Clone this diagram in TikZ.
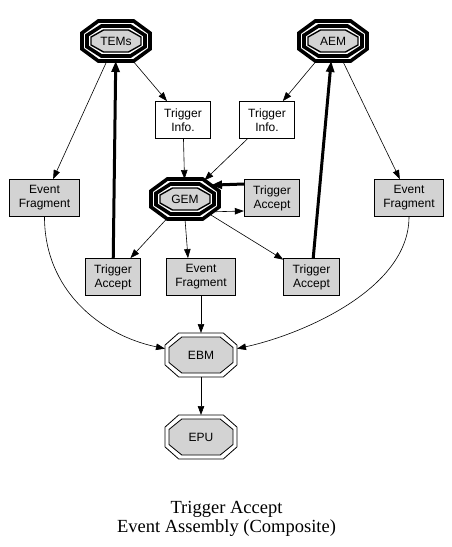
\documentclass[tikz,border=0pt]{standalone}
\usepackage{fontspec}
\setmainfont{Liberation Serif}
\newfontfamily\arialfont{Liberation Sans}
\usetikzlibrary{arrows.meta}
\definecolor{lgray}{HTML}{D3D3D3}
\makeatletter
\newdimen\octW \newdimen\octH \newdimen\octCx \newdimen\octCy
\newdimen\octA \newdimen\octB \newdimen\octDx \newdimen\octDy
\pgfkeys{/pgf/octo top/.initial=0.5, /pgf/octo side/.initial=0.4}
\def\octgeom{%
  \southwest \octCx=\pgf@x \octCy=\pgf@y
  \northeast \octW=\pgf@x \octH=\pgf@y
  \advance\octW by -\octCx \octW=.5\octW
  \advance\octH by -\octCy \octH=.5\octH
  \advance\octCx by \octW \advance\octCy by \octH
  \octratios
  \octA=\octtopr\octW
  \octB=\octsider\octH
}
\pgfdeclareshape{octo}{%
  \inheritsavedanchors[from=rectangle]
  \inheritanchor[from=rectangle]{center}
  \inheritanchor[from=rectangle]{text}
  \inheritanchor[from=rectangle]{base}
  \inheritanchor[from=rectangle]{mid}
  \inheritanchor[from=rectangle]{north}
  \inheritanchor[from=rectangle]{south}
  \inheritanchor[from=rectangle]{east}
  \inheritanchor[from=rectangle]{west}
  \savedmacro\octratios{%
    \edef\octtopr{\pgfkeysvalueof{/pgf/octo top}}%
    \edef\octsider{\pgfkeysvalueof{/pgf/octo side}}%
    \addtosavedmacro\octtopr
    \addtosavedmacro\octsider
  }
  \backgroundpath{%
    \octgeom
    \pgfpathmoveto{\pgfpointadd{\pgfqpoint{\octCx}{\octCy}}{\pgfqpoint{\octW}{\octB}}}%
    \pgfpathlineto{\pgfpointadd{\pgfqpoint{\octCx}{\octCy}}{\pgfqpoint{\octA}{\octH}}}%
    \pgfpathlineto{\pgfpointadd{\pgfqpoint{\octCx}{\octCy}}{\pgfqpoint{-\octA}{\octH}}}%
    \pgfpathlineto{\pgfpointadd{\pgfqpoint{\octCx}{\octCy}}{\pgfqpoint{-\octW}{\octB}}}%
    \pgfpathlineto{\pgfpointadd{\pgfqpoint{\octCx}{\octCy}}{\pgfqpoint{-\octW}{-\octB}}}%
    \pgfpathlineto{\pgfpointadd{\pgfqpoint{\octCx}{\octCy}}{\pgfqpoint{-\octA}{-\octH}}}%
    \pgfpathlineto{\pgfpointadd{\pgfqpoint{\octCx}{\octCy}}{\pgfqpoint{\octA}{-\octH}}}%
    \pgfpathlineto{\pgfpointadd{\pgfqpoint{\octCx}{\octCy}}{\pgfqpoint{\octW}{-\octB}}}%
    \pgfpathclose
  }
  \anchorborder{%
    \octDx=\pgf@x \octDy=\pgf@y
    \octgeom
    \pgfmathsetmacro\octw{\octW}%
    \pgfmathsetmacro\octh{\octH}%
    \pgfmathsetmacro\octa{\octA}%
    \pgfmathsetmacro\octb{\octB}%
    \pgfmathsetmacro\octlen{max(veclen(\octDx,\octDy),0.001)}%
    \pgfmathsetmacro\octux{abs(\octDx)/\octlen}%
    \pgfmathsetmacro\octuy{abs(\octDy)/\octlen}%
    \pgfmathsetmacro\octt{min(min(\octw/max(\octux,0.01),\octh/max(\octuy,0.01)),((\octh-\octb)*\octw+(\octw-\octa)*\octb)/max((\octh-\octb)*\octux+(\octw-\octa)*\octuy,0.01))}%
    \pgfmathsetmacro\octsx{\octDx<0 ? -1 : 1}%
    \pgfmathsetmacro\octsy{\octDy<0 ? -1 : 1}%
    \pgfmathsetlength\octDx{\octt*\octux*\octsx}%
    \pgfmathsetlength\octDy{\octt*\octuy*\octsy}%
    \pgf@x=\octDx \advance\pgf@x by \octCx
    \pgf@y=\octDy \advance\pgf@y by \octCy
  }
}
\makeatother
\tikzset{
  lbl/.style={font=\arialfont\fontsize{12}{14}\selectfont, align=center, text=black},
  oct/.style={shape=octo, inner sep=0pt, outer sep=0pt},
  toct1/.style={oct, draw, line width=3.6pt, minimum width=68pt, minimum height=40pt,
    /pgf/octo top=0.52, /pgf/octo side=0.4},
  toct2/.style={oct, draw, line width=3.6pt, minimum width=58pt, minimum height=30pt,
    /pgf/octo top=0.5, /pgf/octo side=0.38},
  toct3/.style={oct, draw, fill=lgray, line width=1.4pt, minimum width=50pt, minimum height=22pt,
    /pgf/octo top=0.5, /pgf/octo side=0.36, lbl},
  doct1/.style={oct, draw, line width=0.8pt, minimum width=72pt, minimum height=44pt,
    /pgf/octo top=0.62, /pgf/octo side=0.45},
  doct2/.style={oct, draw, fill=lgray, line width=0.8pt, minimum width=64pt, minimum height=36pt,
    /pgf/octo top=0.6, /pgf/octo side=0.42, lbl},
  wbox/.style={draw, line width=0.8pt, fill=white, minimum width=54pt, minimum height=37pt,
    inner xsep=9pt, inner ysep=2pt, lbl},
  gbox/.style={wbox, fill=lgray},
  arr/.style={-{Triangle[length=9pt,width=6.5pt]}, line width=0.6pt},
  thickarr/.style={-{Triangle[length=11pt,width=8pt]}, line width=3pt},
  ttl/.style={font=\fontsize{18.5}{20}\selectfont, anchor=base}
}
\begin{document}
\begin{tikzpicture}[x=1pt,y=-1pt]
\useasboundingbox (0,0) rectangle (452,547);
% triple octagons
\node[toct1] (tems) at (116,41) {};
\node[toct2] at (tems) {};
\node[toct3] (temsin) at (tems) {TEMs};
\node[toct1] (aem) at (333,41) {};
\node[toct2] at (aem) {};
\node[toct3] (aemin) at (aem) {AEM};
\node[toct1] (gem) at (185,199) {};
\node[toct2] at (gem) {};
\node[toct3] (gemin) at (gem) {GEM};
% double octagons
\node[doct1] (ebm) at (201,355) {};
\node[doct2] (ebmin) at (ebm) {EBM};
\node[doct1] (epu) at (201,437) {};
\node[doct2] (epuin) at (epu) {EPU};
% boxes
\node[wbox] (tiL) at (183,120) {Trigger\\Info.};
\node[wbox] (tiR) at (267,120) {Trigger\\Info.};
\node[gbox] (tag) at (272,198) {Trigger\\Accept};
\node[gbox] (efL) at (44.5,198) {Event\\Fragment};
\node[gbox] (efR) at (409,198) {Event\\Fragment};
\node[gbox] (taBL) at (113,277) {Trigger\\Accept};
\node[gbox] (efM) at (201,277) {Event\\Fragment};
\node[gbox] (taBR) at (311.5,277) {Trigger\\Accept};
% title
\node[ttl] (title1) at (226.5,513) {Trigger Accept};
\node[ttl] (title2) at (226.5,532) {Event Assembly (Composite)};
% edges
\draw[arr] (tems) -- (efL);
\draw[arr] (tems) -- (tiL);
\draw[thickarr] (taBL) -- (tems);
\draw[arr] (aem) -- (tiR);
\draw[arr] (aem) -- (efR);
\draw[thickarr] (taBR) -- (aem);
\draw[arr] (tiL) -- (gem);
\draw[arr] (tiR) -- (gem);
\draw[thickarr] ([yshift=14pt]tag.west) -- (gem.28);
\draw[arr] (gem.-25) -- ([yshift=-13pt]tag.west);
\draw[arr] (gem) -- (taBL);
\draw[arr] (gem.south) -- ([xshift=-13pt]efM.north);
\draw[arr] (gem) -- (taBR);
\draw[arr] (efL.south) .. controls (44.5,290) and (100,335) .. (ebm.170);
\draw[arr] (efR.south) .. controls (409,290) and (300,335) .. (ebm.10);
\draw[arr] (efM) -- (ebm);
\draw[arr] (ebm) -- (epu);
\end{tikzpicture}
\end{document}
